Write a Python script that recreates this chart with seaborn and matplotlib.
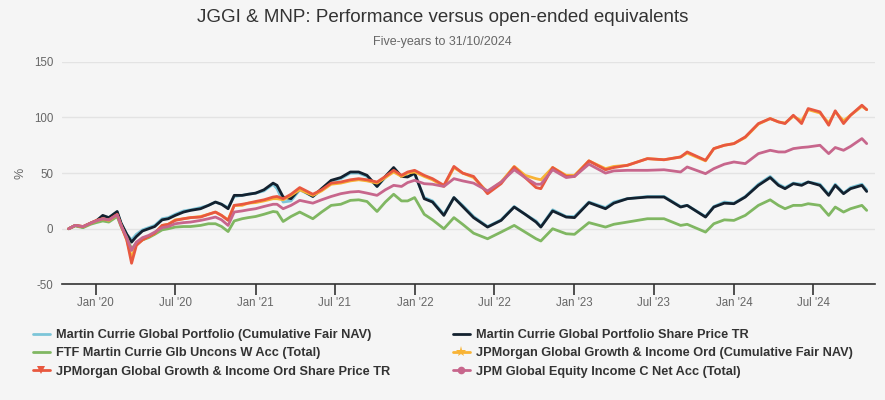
import matplotlib
matplotlib.use("Agg")
import matplotlib.pyplot as plt
import matplotlib.dates as mdates
from matplotlib.lines import Line2D
import seaborn as sns
import pandas as pd

dates = ["2019-10-31","2019-11-15","2019-12-03","2019-12-20","2020-01-02","2020-01-17","2020-01-31",
"2020-02-19","2020-02-28","2020-03-12","2020-03-23","2020-04-03","2020-04-17","2020-05-01","2020-05-15",
"2020-06-01","2020-06-15","2020-07-01","2020-07-20","2020-08-05","2020-08-28","2020-09-15","2020-10-01",
"2020-10-15","2020-10-30","2020-11-13","2020-12-01","2020-12-15","2021-01-01","2021-01-20","2021-02-10",
"2021-02-19","2021-03-05","2021-03-23","2021-04-12","2021-05-12","2021-06-01","2021-06-23","2021-07-15",
"2021-08-06","2021-08-25","2021-09-13","2021-10-06","2021-10-25","2021-11-13","2021-12-01","2021-12-15",
"2021-12-31","2022-01-22","2022-02-10","2022-03-08","2022-03-31","2022-04-20","2022-05-15","2022-06-16",
"2022-07-17","2022-08-16","2022-09-10","2022-10-05","2022-10-16","2022-11-12","2022-12-13","2023-01-01",
"2023-02-03","2023-03-13","2023-04-01","2023-05-02","2023-06-17","2023-07-25","2023-09-01","2023-09-16",
"2023-10-28","2023-11-16","2023-12-10","2024-01-01","2024-01-27","2024-02-26","2024-03-24","2024-04-12",
"2024-04-27","2024-05-16","2024-06-04","2024-06-19","2024-07-16","2024-08-05","2024-08-20","2024-09-08",
"2024-09-24","2024-10-20","2024-10-31"]

mc_nav = [0,3,1.5,5,7,11,10,15,5,-5,-10,-5,-1,1,3,9,10,13,16,17,19,21,24,22,19,29,30,31,32,34,40,
36,24,25,35,29,35,43,45,50,50,47,38,46,54,47,47,49,28,25,13,28,21,11,2,8,20,13,7,2,17,11,11,
24,19,24,27,29,29,20,21,11,20,24,23,29,40,47,40,37,41,40,42,40,31,40,32,37,40,35]
mc_sp = [0,3,1.5,5,7,12,10,15.5,5,-5,-12,-7,-2,0,2,8,9,12,15,16.5,18,21,24,22,18,30,30,31,32,35,41,
39,28.5,27,36,29,36,43.5,46,51,51,48,38,47,55,47,46.5,50,27,24,12,28,20,10,1.5,7.5,19.5,13,6,1.5,16,10.5,10,
23.5,18,23,27,28.5,28.5,19.5,21,10.5,19.5,23,22.5,28.5,39,46,39,36,40.5,39,42,39,30,39,31.5,36,39,33.5]
ftf = [0,2.5,1,4,5.5,7,6,11,2,-8,-18,-13,-10,-8,-5,-1,0,1.5,2,2,3,4.5,4.5,2,-2.5,7,9,10,11,13,15.5,
15,6.5,11,15,9,15,21,22,25.5,26,24.5,15.5,24,31,25,25,28,13,8,0,10,4,-4,-9,-3,3,-3,-9,-11,0,-4.5,-5,
5.5,1.5,4,6,9,9,3,4,-3,4.5,8,7.5,12,21,26,21,18,21,21,22.5,21,12,19.5,15,18,21,16.5]
jggi_nav = [0,3,2,5,7,9,7.5,12.5,3,-10,-26,-14,-10,-7,-4,3,4,8,9,10,11,13,15,12,8,21,21,23,23.5,25,27,
27,26,30,35,30,34,40,41,43,44,43,41,46,51,47,50,51,47,44,38,55,50,46,33,42,56,48,45,44,55,48,48,
61,54,56,57,63,62,64.5,68,61,72,75,76.5,82,94,99,96,95,101,97,107,104,95,105,97,102,110,107]
jggi_sp = [0,3,2,5,7.5,9,8,13,3,-10,-31,-15,-10,-7,-4,3,4,7.5,9,10,10.5,13,15,12,7.5,21,22,23,24.5,26,28.5,
29,27,31,37,31,35,41,42,44,45,44,42,47,52.5,48,51,52.5,48,45,39,56,50,47,31.5,40.5,55.5,46,37,36,55,47,47,
61,53,55,57,63,62,64.5,69,61.5,72,75,76.5,82.5,94.5,99,96,94.5,102,94.5,108,105,93,106,94.5,102,111,107]
jpm_gei = [0,3,2,5,7,9,8,12.5,3,-8,-19.5,-12,-8,-6,-3,1,2,4.5,5.5,6,7.5,9,10.5,8,3,15,16,17,18,20,22,
22,18,21,25.5,23,26,29,31.5,33,33.5,32,30,35,39,38,41.5,43.5,40.5,40,38,45,43,41,34,42,53,46,40,40,53,46,47,
58,50,52,52.5,52.5,53,51,55.5,49.5,54,58,60,58.5,67.5,70.5,69,69,72,73,73.5,75,67.5,73,70.5,74,81,76.5]

names = ["Martin Currie Global Portfolio (Cumulative Fair NAV)",
         "Martin Currie Global Portfolio Share Price TR",
         "FTF Martin Currie Glb Uncons W Acc (Total)",
         "JPMorgan Global Growth & Income Ord (Cumulative Fair NAV)",
         "JPMorgan Global Growth & Income Ord Share Price TR",
         "JPM Global Equity Income C Net Acc (Total)"]
colors = ["#7cc5d8", "#13212f", "#80b762", "#f8b335", "#e8583f", "#c7668c"]
markers = [None, None, None, "*", "v", "o"]
series = [mc_nav, mc_sp, ftf, jggi_nav, jggi_sp, jpm_gei]

frames = []
for n, s in zip(names, series):
    frames.append(pd.DataFrame({"date": pd.to_datetime(dates), "value": s, "series": n}))
df = pd.concat(frames, ignore_index=True)

sns.set_theme(style="white")
plt.rcParams["font.family"] = ["Liberation Sans", "DejaVu Sans"]
plt.rcParams["axes.unicode_minus"] = False

bg = "#f5f5f5"
fig = plt.figure(figsize=(8.85, 4.0), dpi=100, facecolor=bg)
ax = fig.add_axes([0.0697, 0.289, 0.919, 0.5565], facecolor=bg)

sns.lineplot(data=df, x="date", y="value", hue="series", hue_order=names,
             palette=dict(zip(names, colors)), linewidth=2, legend=False, ax=ax)

ax.set_ylim(-50, 150)
ax.set_yticks([-50, 0, 50, 100, 150])
ax.set_xlim(pd.Timestamp("2019-10-15"), pd.Timestamp("2024-11-19"))
ax.xaxis.set_major_locator(mdates.MonthLocator(bymonth=[1, 7]))
ax.xaxis.set_major_formatter(mdates.DateFormatter("%b '%y"))
ax.grid(axis="y", color="#e3e3e3", linewidth=1)
ax.grid(axis="x", visible=False)
for sp in ["top", "right", "left"]:
    ax.spines[sp].set_visible(False)
ax.spines["bottom"].set_color("#333333")
ax.spines["bottom"].set_linewidth(1.2)
ax.tick_params(axis="x", colors="#333333", length=8, width=1.2, labelsize=8.3,
               labelcolor="#666666", pad=1, direction="out", bottom=True)
ax.tick_params(axis="y", length=0, labelsize=8.3, labelcolor="#666666", pad=6)
ax.set_xlabel("")
ax.set_ylabel("%", fontsize=9, color="#666666")
ax.yaxis.set_label_coords((27 - 62) / (0.919 * 885), 0.5)

fig.text(0.5, 0.955, "JGGI & MNP: Performance versus open-ended equivalents",
         ha="center", va="center", fontsize=13.5, color="#333333")
fig.text(0.5, 0.895, "Five-years to 31/10/2024", ha="center", va="center",
         fontsize=9, color="#666666")

handles = []
for n, c, m in zip(names, colors, markers):
    handles.append(Line2D([0], [0], color=c, linewidth=2, marker=m,
                          markersize=8 if m == "*" else 5.5, markeredgewidth=0))
left_idx = [0, 2, 4]
right_idx = [1, 3, 5]
common = dict(frameon=False, fontsize=9.2, handlelength=1.3, handletextpad=0.5,
              labelspacing=0.5, borderpad=0, borderaxespad=0, loc="upper left")
for idx, x0 in [(left_idx, 33 / 885), (right_idx, 453 / 885)]:
    leg = fig.legend([handles[i] for i in idx], [names[i] for i in idx],
                     bbox_to_anchor=(x0, 1 - 329 / 400), **common)
    for t in leg.get_texts():
        t.set_fontweight("bold")
        t.set_color("#333333")

fig.savefig("out.png", dpi=100, facecolor=bg)
